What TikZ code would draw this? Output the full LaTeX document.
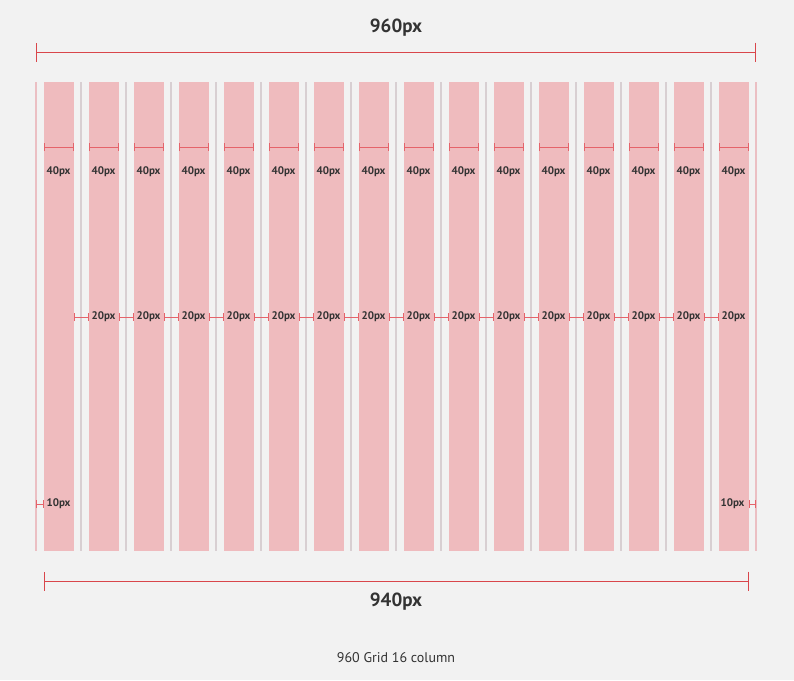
\documentclass[tikz,border=0pt]{standalone}
\usepackage{fontspec}
\setmainfont{PT Sans}
\usepackage{xcolor}
\usepackage{tikz}
\usetikzlibrary{arrows.meta,positioning,calc}

\definecolor{bgray}{HTML}{F2F2F2}
\definecolor{colpink}{HTML}{EFBBBE}
\definecolor{dimred}{HTML}{D9464B}
\definecolor{lightred}{HTML}{E5636A}
\definecolor{gutgray}{HTML}{D8CFD2}
\definecolor{edgepink}{HTML}{EBBFC3}
\definecolor{txt}{HTML}{333333}

\tikzset{
  column/.style={fill=colpink,draw=none,minimum width=30pt,minimum height=469pt,
    inner sep=0pt,outer sep=0pt},
  bigdim/.style={dimred,line width=1pt,{Bar[width=19pt]}-{Bar[width=19pt]}},
  smalldim/.style={lightred,line width=1pt,{Bar[width=8pt]}-{Bar[width=8pt]}},
  lbl/.style={text=txt,font=\fontsize{11}{12}\selectfont\bfseries,inner sep=0pt},
  biglbl/.style={text=txt,font=\fontsize{19}{20}\selectfont\bfseries,inner sep=0pt}
}

\begin{document}
\begin{tikzpicture}[x=1pt,y=-1pt]
  \fill[bgray] (0,0) rectangle (794,680);
  \useasboundingbox (0,0) rectangle (794,680);
  % rows of the measures
  \coordinate (toprow) at (0,52);
  \coordinate (wrow) at (0,147);
  \coordinate (grow) at (0,317);
  \coordinate (mrow) at (0,504);
  \coordinate (botrow) at (0,581);
  % outer edges of the 960 box
  \coordinate (leftedge) at (36,82);
  \coordinate (rightedge) at (756,82);
  \draw[edgepink,line width=1.2pt] (leftedge) -- ++(0,469);
  \draw[edgepink,line width=1.2pt] (rightedge) -- ++(0,469);
  % gutter centre lines
  \foreach \k in {1,...,15}
    \draw[gutgray,line width=2pt] (36+45*\k,82) -- ++(0,469);
  % the 16 columns
  \foreach \i in {1,...,16}
    \node[column] (col\i) at (58.5+45*\i-45,316.5) {};
  % column widths
  \foreach \i in {1,...,16}{
    \draw[smalldim] (col\i.west |- wrow) -- (col\i.east |- wrow);
    \node[lbl] (wlbl\i) at ($(col\i |- wrow)+(0,25)$) {40px};
  }
  % gutters
  \foreach \i [evaluate=\i as \j using int(\i+1)] in {1,...,15}{
    \draw[smalldim] (col\i.east |- grow) -- (col\j.west |- grow);
    \node[lbl] (glbl\j) at (col\j |- grow) {20px};
  }
  % margins
  \draw[smalldim] (leftedge |- mrow) -- (col1.west |- mrow);
  \node[lbl] (mlbl1) at (col1 |- mrow) {10px};
  \draw[smalldim] (col16.east |- mrow) -- (rightedge |- mrow);
  \node[lbl] (mlbl16) at ($(col16 |- mrow)+(-1,0)$) {10px};
  % overall sizes
  \draw[bigdim] (leftedge |- toprow) -- (rightedge |- toprow);
  \node[biglbl] (fulllbl) at (396,28) {960px};
  \draw[bigdim] (col1.west |- botrow) -- (col16.east |- botrow);
  \node[biglbl] (innerlbl) at (396,602) {940px};
  \node[lbl,font=\fontsize{14}{15}\selectfont] (caption) at (396,658) {960 Grid 16 column};
\end{tikzpicture}
\end{document}
